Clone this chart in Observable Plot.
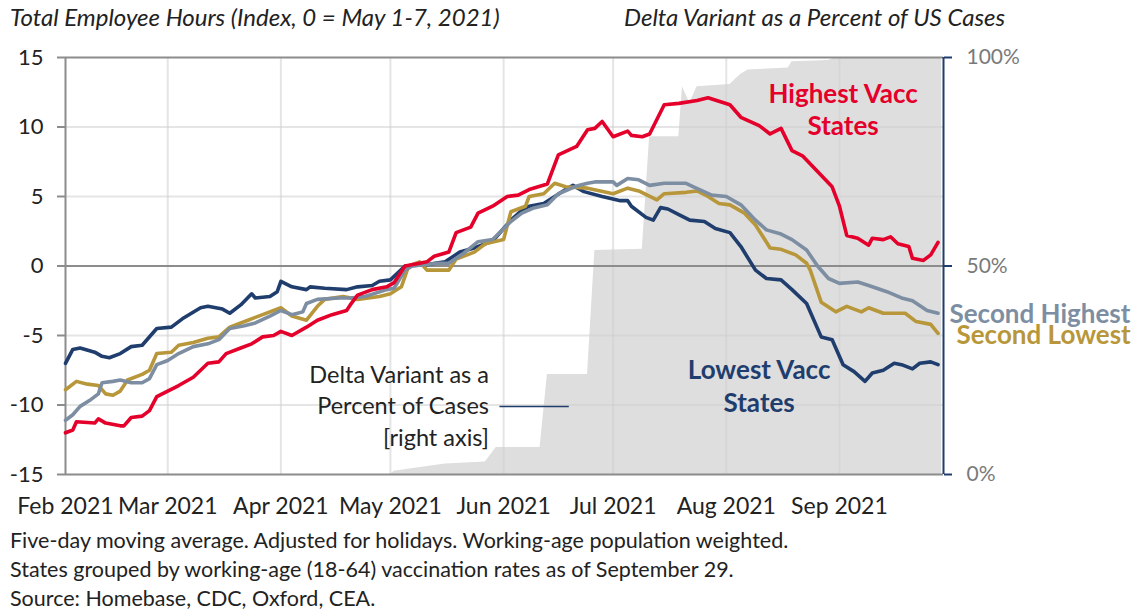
<!DOCTYPE html>
<html><head><meta charset="utf-8">
<script src="https://cdn.jsdelivr.net/npm/d3@7"></script>
<script src="https://cdn.jsdelivr.net/npm/@observablehq/plot@0.6"></script>
<style>
body{margin:0;background:#fff;font-family:Lato,sans-serif;}
#wrap{position:relative;width:1140px;height:611px;overflow:hidden;background:#fff;}
#chart{position:absolute;left:0;top:0;}
.t{position:absolute;font-style:italic;font-size:24px;line-height:28px;color:#222;white-space:nowrap;}
.note{position:absolute;left:10px;font-size:21.5px;line-height:24px;color:#222;white-space:nowrap;}
</style></head>
<body><div id="wrap">
<div id="chart"></div>
<div class="t" style="left:10px;top:3px">Total Employee Hours (Index, 0 = May 1-7, 2021)</div>
<div class="t" style="left:624px;top:3px">Delta Variant as a Percent of US Cases</div>
<div class="note" style="top:528px">Five-day moving average. Adjusted for holidays. Working-age population weighted.</div>
<div class="note" style="top:557px">States grouped by working-age (18-64) vaccination rates as of September 29.</div>
<div class="note" style="top:586px">Source: Homebase, CDC, Oxford, CEA.</div>
</div>
<script>
// ---- data ----
const seriesNames = ["Lowest Vacc States", "Second Lowest", "Second Highest", "Highest Vacc States"];
const seriesColors = ["#1f3d6d", "#b8973a", "#7d8ea3", "#e4002b"];

const highestVacc = [["2021-02-01",-12.0],["2021-02-03",-11.8],["2021-02-04",-11.2],["2021-02-09",-11.3],["2021-02-10",-11.0],["2021-02-12",-11.3],["2021-02-16",-11.5],["2021-02-17",-11.5],["2021-02-19",-10.9],["2021-02-22",-10.8],["2021-02-24",-10.4],["2021-02-26",-9.4],["2021-03-01",-9.0],["2021-03-04",-8.6],["2021-03-08",-8.0],["2021-03-12",-7.0],["2021-03-15",-6.9],["2021-03-17",-6.3],["2021-03-21",-5.9],["2021-03-24",-5.6],["2021-03-27",-5.1],["2021-03-30",-5.0],["2021-04-01",-4.7],["2021-04-04",-5.0],["2021-04-08",-4.4],["2021-04-11",-3.9],["2021-04-15",-3.5],["2021-04-19",-3.2],["2021-04-20",-2.8],["2021-04-22",-2.1],["2021-04-26",-1.7],["2021-04-30",-1.5],["2021-05-02",-1.2],["2021-05-05",0],["2021-05-09",0.2],["2021-05-11",0.3],["2021-05-13",0.7],["2021-05-17",1.0],["2021-05-19",2.4],["2021-05-23",2.8],["2021-05-25",3.8],["2021-05-29",4.3],["2021-06-02",5.0],["2021-06-05",5.1],["2021-06-08",5.5],["2021-06-13",5.9],["2021-06-16",8.0],["2021-06-21",8.6],["2021-06-24",9.8],["2021-06-26",9.9],["2021-06-28",10.4],["2021-07-01",9.3],["2021-07-05",9.7],["2021-07-06",9.4],["2021-07-09",9.3],["2021-07-11",9.5],["2021-07-15",11.6],["2021-07-19",11.7],["2021-07-24",11.9],["2021-07-27",12.1],["2021-08-02",11.6],["2021-08-05",10.7],["2021-08-10",10.1],["2021-08-13",9.5],["2021-08-16",9.9],["2021-08-19",8.3],["2021-08-22",7.9],["2021-08-26",6.8],["2021-08-30",5.7],["2021-09-01",4.3],["2021-09-03",2.2],["2021-09-06",2.0],["2021-09-09",1.5],["2021-09-10",2.0],["2021-09-13",1.9],["2021-09-15",2.1],["2021-09-17",1.6],["2021-09-20",1.4],["2021-09-21",0.55],["2021-09-24",0.4],["2021-09-26",0.8],["2021-09-28",1.7]];

const lowestVacc = [["2021-02-01",-7.0],["2021-02-03",-6.0],["2021-02-05",-5.9],["2021-02-09",-6.2],["2021-02-11",-6.5],["2021-02-13",-6.6],["2021-02-16",-6.3],["2021-02-19",-5.8],["2021-02-22",-5.7],["2021-02-26",-4.5],["2021-03-02",-4.4],["2021-03-05",-3.8],["2021-03-10",-3.0],["2021-03-12",-2.9],["2021-03-16",-3.1],["2021-03-18",-3.4],["2021-03-21",-2.8],["2021-03-24",-2.0],["2021-03-25",-2.3],["2021-03-29",-2.2],["2021-03-31",-1.85],["2021-04-01",-1.1],["2021-04-04",-1.5],["2021-04-08",-1.7],["2021-04-09",-1.5],["2021-04-13",-1.6],["2021-04-19",-1.7],["2021-04-22",-1.5],["2021-04-26",-1.4],["2021-04-28",-1.1],["2021-05-01",-1.0],["2021-05-05",0],["2021-05-11",0.1],["2021-05-16",0.3],["2021-05-20",1.0],["2021-05-24",1.3],["2021-05-29",1.8],["2021-06-03",3.3],["2021-06-06",4.0],["2021-06-08",4.3],["2021-06-12",4.5],["2021-06-15",5.0],["2021-06-18",5.5],["2021-06-20",5.8],["2021-06-23",5.35],["2021-06-28",5.0],["2021-07-03",4.7],["2021-07-05",4.7],["2021-07-06",4.3],["2021-07-10",3.5],["2021-07-12",3.3],["2021-07-14",4.2],["2021-07-16",4.1],["2021-07-19",3.7],["2021-07-22",3.3],["2021-07-26",3.2],["2021-07-29",2.7],["2021-08-02",2.4],["2021-08-05",1.4],["2021-08-09",-0.3],["2021-08-12",-0.9],["2021-08-16",-1.0],["2021-08-19",-1.7],["2021-08-23",-2.7],["2021-08-27",-5.1],["2021-08-30",-5.3],["2021-09-02",-7.1],["2021-09-05",-7.6],["2021-09-08",-8.3],["2021-09-10",-7.7],["2021-09-13",-7.5],["2021-09-16",-7.0],["2021-09-18",-7.1],["2021-09-21",-7.4],["2021-09-23",-7.0],["2021-09-26",-6.9],["2021-09-28",-7.1]];

const secondHighest = [["2021-02-01",-11.1],["2021-02-03",-10.7],["2021-02-05",-10.1],["2021-02-08",-9.6],["2021-02-10",-9.2],["2021-02-11",-8.4],["2021-02-14",-8.3],["2021-02-16",-8.2],["2021-02-19",-8.4],["2021-02-22",-8.4],["2021-02-24",-8.1],["2021-02-26",-7.1],["2021-03-01",-6.8],["2021-03-04",-6.3],["2021-03-08",-5.8],["2021-03-12",-5.6],["2021-03-15",-5.3],["2021-03-18",-4.5],["2021-03-22",-4.3],["2021-03-25",-4.1],["2021-03-29",-3.6],["2021-04-01",-3.2],["2021-04-04",-3.5],["2021-04-07",-3.3],["2021-04-08",-2.7],["2021-04-11",-2.4],["2021-04-17",-2.3],["2021-04-20",-2.3],["2021-04-24",-2.2],["2021-04-30",-1.7],["2021-05-02",-1.6],["2021-05-05",-0.3],["2021-05-07",0],["2021-05-14",0.2],["2021-05-17",0.2],["2021-05-21",0.9],["2021-05-25",1.75],["2021-05-29",1.9],["2021-06-03",3.2],["2021-06-06",3.8],["2021-06-09",4.15],["2021-06-13",4.4],["2021-06-16",5.2],["2021-06-21",5.75],["2021-06-24",5.95],["2021-06-26",6.05],["2021-07-01",6.05],["2021-07-02",5.8],["2021-07-05",6.3],["2021-07-08",6.2],["2021-07-11",5.8],["2021-07-15",5.95],["2021-07-21",5.95],["2021-07-23",5.7],["2021-07-28",5.1],["2021-08-01",5.0],["2021-08-05",4.4],["2021-08-09",3.3],["2021-08-12",2.6],["2021-08-16",2.3],["2021-08-19",1.9],["2021-08-23",1.15],["2021-08-26",0],["2021-08-29",-0.9],["2021-09-01",-1.25],["2021-09-06",-1.15],["2021-09-09",-1.4],["2021-09-14",-1.85],["2021-09-18",-2.3],["2021-09-21",-2.5],["2021-09-25",-3.2],["2021-09-28",-3.4]];

const secondLowest = [["2021-02-01",-8.9],["2021-02-04",-8.3],["2021-02-07",-8.5],["2021-02-10",-8.6],["2021-02-12",-9.2],["2021-02-14",-9.3],["2021-02-16",-9.0],["2021-02-18",-8.2],["2021-02-22",-7.8],["2021-02-24",-7.5],["2021-02-26",-6.3],["2021-03-02",-6.2],["2021-03-04",-5.7],["2021-03-08",-5.5],["2021-03-12",-5.2],["2021-03-15",-5.1],["2021-03-18",-4.4],["2021-03-23",-3.9],["2021-03-27",-3.5],["2021-04-01",-3.0],["2021-04-04",-3.6],["2021-04-08",-3.9],["2021-04-11",-2.9],["2021-04-13",-2.4],["2021-04-18",-2.2],["2021-04-22",-2.4],["2021-04-28",-2.2],["2021-05-01",-2.0],["2021-05-04",-1.5],["2021-05-06",0],["2021-05-09",0.3],["2021-05-11",-0.3],["2021-05-17",-0.3],["2021-05-19",0.5],["2021-05-24",1.0],["2021-05-27",1.6],["2021-06-01",1.9],["2021-06-03",3.9],["2021-06-07",4.3],["2021-06-08",5.0],["2021-06-12",5.2],["2021-06-15",5.95],["2021-06-18",5.7],["2021-06-24",5.6],["2021-07-01",5.2],["2021-07-05",5.6],["2021-07-08",5.4],["2021-07-13",4.75],["2021-07-15",5.2],["2021-07-21",5.3],["2021-07-24",5.4],["2021-07-27",5.0],["2021-07-30",4.5],["2021-08-02",4.4],["2021-08-06",3.8],["2021-08-09",2.95],["2021-08-13",1.3],["2021-08-16",1.2],["2021-08-20",0.8],["2021-08-23",0.2],["2021-08-24",-0.3],["2021-08-27",-2.6],["2021-08-31",-3.3],["2021-09-03",-2.9],["2021-09-07",-3.3],["2021-09-09",-3.0],["2021-09-13",-3.4],["2021-09-19",-3.4],["2021-09-22",-4.0],["2021-09-26",-4.2],["2021-09-28",-4.85]];

// Delta variant share of US cases, percent (right axis)
const deltaShare = [["2021-05-01",0],["2021-05-02",0.8],["2021-05-16",2.5],["2021-05-27",3],["2021-05-30",6.5],["2021-06-11",6.5],["2021-06-13",24],["2021-06-24",24],["2021-06-26",53.7],["2021-07-09",54],["2021-07-11",81],["2021-07-19",81],["2021-07-20",93],["2021-07-22",89],["2021-07-24",93],["2021-08-02",93.5],["2021-08-05",96],["2021-08-07",97],["2021-08-18",97.5],["2021-08-19",99],["2021-08-29",99.3],["2021-08-31",100],["2021-09-29",100]];

const leftTicks = [-15, -10, -5, 0, 5, 10, 15];
const rightTicksPct = [0, 50, 100];
const monthTickDates = ["2021-02-01","2021-03-01","2021-04-01","2021-05-01","2021-06-01","2021-07-01","2021-08-01","2021-09-01"];
const xStart = "2021-02-01", xEnd = "2021-09-29T12:00";

const centeredLabels = [
  {text: "Highest Vacc", date: "2021-09-02", value: 12.3, color: "#e4002b"},
  {text: "States", date: "2021-09-02", value: 10.0, color: "#e4002b"},
  {text: "Lowest Vacc", date: "2021-08-10", value: -7.55, color: "#1f3d6d"},
  {text: "States", date: "2021-08-10", value: -9.9, color: "#1f3d6d"}
];
const endLabels = [
  {text: "Second Highest", date: "2021-09-29T12:00", value: -3.5, color: "#7d8ea3", dx: 6},
  {text: "Second Lowest", date: "2021-09-29T12:00", value: -5.0, color: "#b8973a", dx: 13}
];
const annotationLines = ["Delta Variant as a", "Percent of Cases", "[right axis]"];
const annotationAt = {date: "2021-05-28", values: [-7.9, -10.1, -12.4], leader: ["2021-05-31", "2021-06-19"]};

// ---- build ----
const parse = s => new Date(s.length > 10 ? s + "Z" : s + "T00:00:00Z");
const toRows = (arr, series) => arr.map(([d, v]) => ({date: parse(d), value: v, series}));
const rows = [
  ...toRows(lowestVacc, seriesNames[0]),
  ...toRows(secondLowest, seriesNames[1]),
  ...toRows(secondHighest, seriesNames[2]),
  ...toRows(highestVacc, seriesNames[3])
];
const pctToY = p => -15 + p * 30 / 100;
const yToPct = y => Math.round((y + 15) / 30 * 100);
const deltaRows = deltaShare.map(([d, p]) => ({date: parse(d), pct: p}));
const monthTicks = monthTickDates.map(parse);
const xDomain = [parse(xStart), parse(xEnd)];
const withDate = arr => arr.map(d => ({...d, date: parse(d.date)}));
const cRows = withDate(centeredLabels);
const eRows = withDate(endLabels);
const annRows = annotationLines.map((t, i) => ({text: t, date: parse(annotationAt.date), value: annotationAt.values[i]}));

const axisC = "#8c8c8c", navy = "#1f3d6d";

const chart = Plot.plot({
  width: 1140, height: 520,
  marginLeft: 65, marginRight: 197, marginTop: 57, marginBottom: 46,
  style: {fontFamily: "Lato, sans-serif", fontSize: "22px", color: "#222", background: "transparent", overflow: "visible"},
  x: {type: "utc", domain: xDomain, label: null},
  y: {domain: [-15, 15], label: null},
  color: {domain: seriesNames, range: seriesColors},
  marks: [
    Plot.areaY(deltaRows, {x: "date", y1: -15, y2: d => pctToY(d.pct), fill: "#dedede", curve: "linear"}),
    Plot.gridY([-10, -5, 5, 10], {stroke: "#cfcfcf", strokeOpacity: 0.55, strokeWidth: 2}),
    Plot.gridX(monthTicks.slice(1), {stroke: "#cfcfcf", strokeOpacity: 0.55, strokeWidth: 2}),
    Plot.ruleY([-15, 0, 15], {stroke: axisC, strokeWidth: 2}),
    Plot.ruleX([xDomain[0]], {stroke: axisC, strokeWidth: 2}),
    Plot.ruleX([xDomain[1]], {stroke: navy, strokeWidth: 2}),
    Plot.axisY(leftTicks, {anchor: "left", tickSize: 8, tickPadding: 14, strokeWidth: 2, tickFormat: d => String(d), stroke: axisC, fill: "#222", fontSize: 22, label: null}),
    Plot.axisY(rightTicksPct.map(pctToY), {anchor: "right", tickSize: 8, tickPadding: 15, strokeWidth: 2, tickFormat: d => yToPct(d) + "%", stroke: navy, fill: "#7a7a7a", fontSize: 21, label: null}),
    Plot.axisX(monthTicks, {anchor: "bottom", tickSize: 0, tickPadding: 23, tickFormat: d3.utcFormat("%b %Y"), fill: "#222", fontSize: 23, label: null}),
    Plot.ruleY([annotationAt.values[1]], {x1: parse(annotationAt.leader[0]), x2: parse(annotationAt.leader[1]), stroke: navy, strokeWidth: 1.5}),
    Plot.text(annRows, {x: "date", y: "value", text: "text", textAnchor: "end", fill: "#222", fontSize: 23.5}),
    Plot.lineY(rows, {x: "date", y: "value", z: "series", stroke: "series", strokeWidth: 3.6, strokeLinejoin: "round", strokeLinecap: "round"}),
    Plot.text(cRows, {x: "date", y: "value", text: "text", textAnchor: "middle", fill: "color", fontWeight: "bold", fontSize: 26}),
    Plot.text(eRows.slice(0, 1), {x: "date", y: "value", text: "text", textAnchor: "start", dx: 6, fill: "color", fontWeight: "bold", fontSize: 26}),
    Plot.text(eRows.slice(1), {x: "date", y: "value", text: "text", textAnchor: "start", dx: 13, fill: "color", fontWeight: "bold", fontSize: 26})
  ]
});
document.getElementById("chart").appendChild(chart);
</script>
</body></html>
